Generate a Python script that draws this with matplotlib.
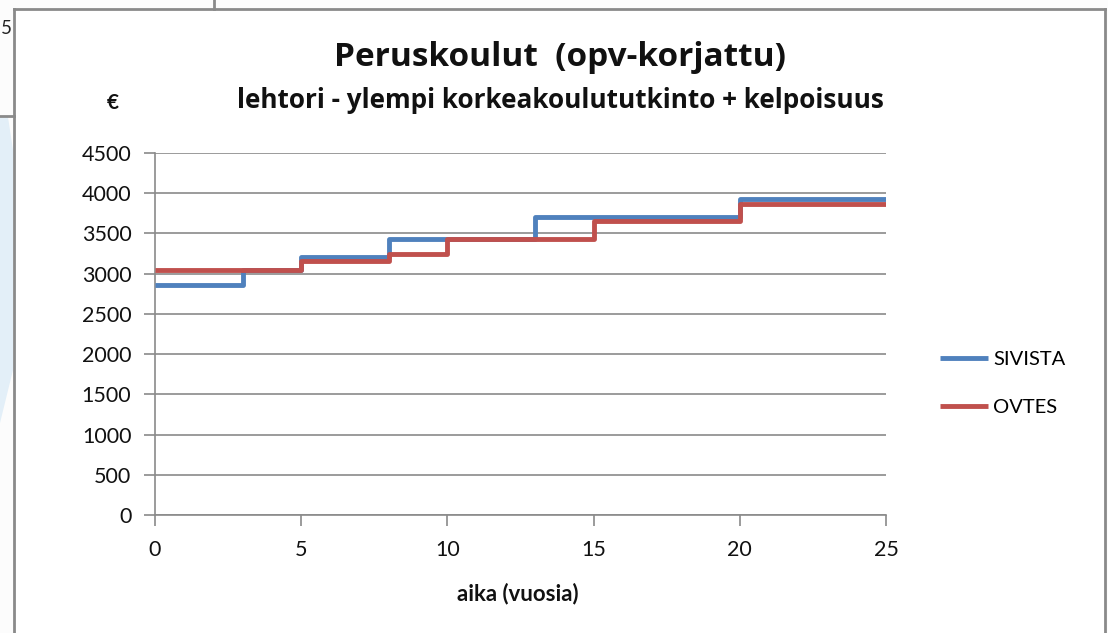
import matplotlib
matplotlib.use('Agg')
import matplotlib.pyplot as plt
from matplotlib.lines import Line2D
from matplotlib.patches import Polygon

plt.rcParams['font.family'] = ['Lato', 'DejaVu Sans']

# vuodet ja palkat (porrastus)
sivista_x = [0, 3, 5, 8, 13, 20, 25]
sivista_y = [2860, 3040, 3205, 3425, 3700, 3925, 3925]
ovtes_x = [0, 5, 8, 10, 15, 20, 25]
ovtes_y = [3040, 3160, 3240, 3425, 3660, 3862, 3862]

xticks = [0, 5, 10, 15, 20, 25]
yticks = list(range(0, 4501, 500))

W, H = 1108, 633
fig = plt.figure(figsize=(W / 100, H / 100), dpi=100)
fig.patch.set_facecolor('#fcfcfc')


def fx(x):
    return x / W


def fy(y):
    return 1 - y / H


# white chart area with a gray frame (screenshot look)
fig.add_artist(Polygon([(fx(14), fy(9)), (fx(1105), fy(9)), (fx(1105), 0), (fx(14), 0)],
                       closed=True, facecolor='white', edgecolor='none',
                       transform=fig.transFigure, zorder=0))
fig.add_artist(Polygon([(0, fy(117)), (fx(8), fy(117)), (fx(13), fy(150)),
                        (fx(13), fy(370)), (0, fy(423))], closed=True,
                       facecolor='#e3eff8', edgecolor='none',
                       transform=fig.transFigure, zorder=0))
for xs, ys in [([14, 14], [9, 633]), ([14, 1105], [9, 9]), ([1105, 1105], [9, 633]),
               ([214, 214], [0, 9]), ([0, 14], [116, 116])]:
    fig.add_artist(Line2D([fx(v) for v in xs], [fy(v) for v in ys], color='#8a8a8a',
                          lw=2, transform=fig.transFigure, zorder=1))
fig.text(fx(1), fy(28), '5', ha='left', va='center', fontsize=13.5, color='#222222')

ax = fig.add_axes([fx(155), fy(515), fx(886) - fx(155), fy(153) - fy(515)])
ax.set_facecolor('white')

ax.step(sivista_x, sivista_y, where='post', color='#4f81bd', lw=3.5,
        label='SIVISTA', solid_joinstyle='round', solid_capstyle='butt', zorder=3)
ax.step(ovtes_x, ovtes_y, where='post', color='#c0504d', lw=3.5,
        label='OVTES', solid_joinstyle='round', solid_capstyle='butt', zorder=4)

ax.set_xlim(0, 25)
ax.set_ylim(0, 4500)
ax.set_xticks(xticks)
ax.set_yticks(yticks)
ax.tick_params(axis='both', labelsize=15.5, colors='#8a8a8a', labelcolor='#111111',
               length=8, width=1.2, direction='out')
ax.tick_params(axis='x', pad=10)
ax.tick_params(axis='y', pad=9)
ax.grid(axis='y', color='#8a8a8a', lw=1.2, zorder=1)
for s in ['top', 'right']:
    ax.spines[s].set_visible(False)
for s in ['left', 'bottom']:
    ax.spines[s].set_color('#8a8a8a')
    ax.spines[s].set_linewidth(1.2)
    ax.spines[s].set_zorder(2)

fig.text(fx(560), fy(57), 'Peruskoulut  (opv-korjattu)', ha='center', va='center',
         fontsize=24, fontweight='bold', color='#111111', family=['Open Sans', 'DejaVu Sans'])
fig.text(fx(560), fy(101), 'lehtori - ylempi korkeakoulututkinto + kelpoisuus',
         ha='center', va='center', fontsize=18.8, fontweight='bold', color='#111111',
         family=['Open Sans', 'DejaVu Sans'])
fig.text(fx(113), fy(103), '€', ha='center', va='center', fontsize=15,
         fontweight='bold', color='#111111')
fig.text(fx(518), fy(594), 'aika (vuosia)', ha='center', va='center', fontsize=16,
         fontweight='bold', color='#111111')

leg = ax.legend(loc='upper left', bbox_to_anchor=(fx(930), fy(341)),
                bbox_transform=fig.transFigure, frameon=False, fontsize=14.5,
                handlelength=2.4, handletextpad=0.25, labelspacing=1.55, borderpad=0)

fig.savefig('out.png', dpi=100, facecolor=fig.get_facecolor())
